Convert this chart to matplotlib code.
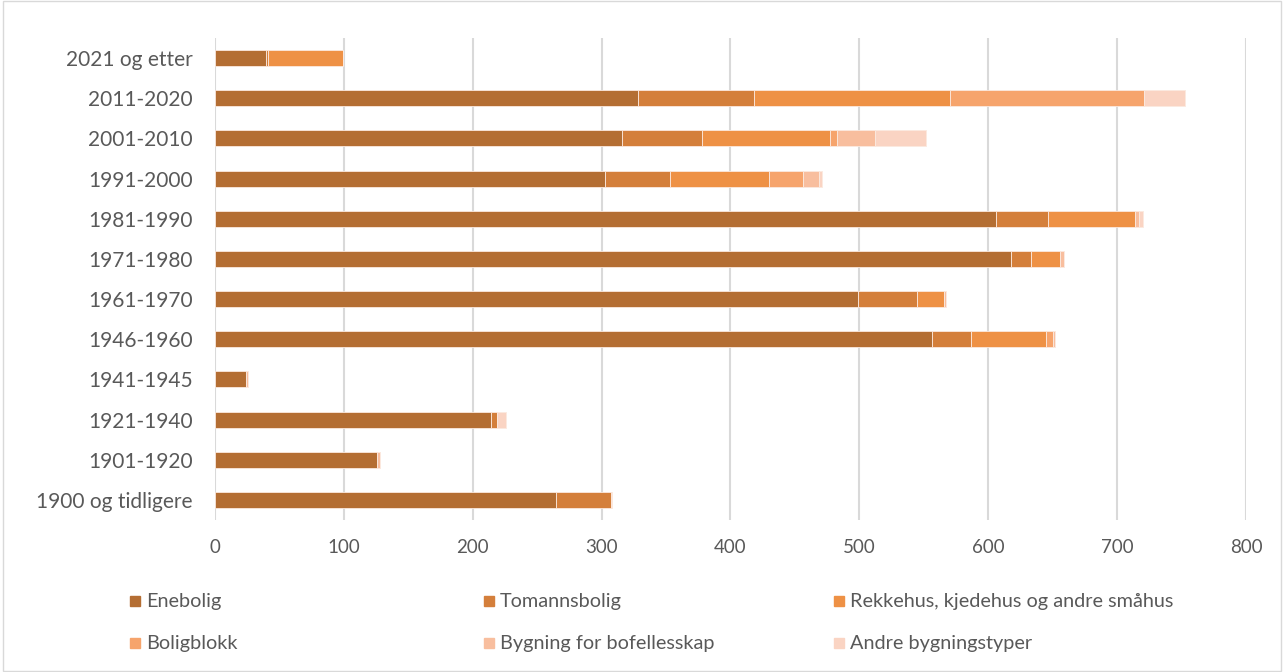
import matplotlib
matplotlib.use('Agg')
import matplotlib.pyplot as plt
import numpy as np
from matplotlib.patches import Rectangle

plt.rcParams['font.family'] = ['Lato', 'DejaVu Sans']

periods = ['2021 og etter', '2011-2020', '2001-2010', '1991-2000', '1981-1990', '1971-1980',
           '1961-1970', '1946-1960', '1941-1945', '1921-1940', '1901-1920', '1900 og tidligere']

seriesNames = ['Enebolig', 'Tomannsbolig', 'Rekkehus, kjedehus og andre småhus',
               'Boligblokk', 'Bygning for bofellesskap', 'Andre bygningstyper']

enebolig     = [40, 328, 316, 303, 606, 618, 499, 556, 24, 214, 126, 265]
tomannsbolig = [1,  90,  62,  50,  40,  15,  46,  31,  0,  5,   0,   42]
rekkehus     = [58, 152, 99,  77,  68,  23,  21,  58,  0,  0,   0,   0]
boligblokk   = [0,  151, 6,   26,  0,   0,   0,   5,   0,   0,   0,   0]
bofelles     = [0,  0,   29,  13,  3,   3,   1,   2,   2,   0,   2,   1]
andre        = [0,  32,  40,  2,   3,   0,   0,   0,   0,   7,   0,   0]

colors = ['#B46E33', '#D47F3B', '#EE9145', '#F6A46C', '#F8BE9E', '#FAD4C3']

data = [enebolig, tomannsbolig, rekkehus, boligblokk, bofelles, andre]

fig = plt.figure(figsize=(12.84, 6.72), dpi=100)
ax = fig.add_axes([0.1674, 0.2262, 0.9704 - 0.1674, 0.9435 - 0.2262])

y = np.arange(len(periods))
left = np.zeros(len(periods))
for vals, name, col in zip(data, seriesNames, colors):
    vals = np.array(vals, dtype=float)
    ax.barh(y, vals, left=left, height=0.4, color=col, edgecolor='#fbe9df', linewidth=0.6,
            label=name, zorder=3)
    left += vals

ax.set_xlim(0, 800)
ax.set_ylim(len(periods) - 0.5, -0.5)
ax.set_xticks(np.arange(0, 801, 100))
ax.set_yticks(y)
ax.set_yticklabels(periods)
ax.grid(True, axis='x', color='#D9D9D9', lw=1.5, zorder=0)
ax.tick_params(length=0, labelsize=13.5, colors='#595959')
ax.tick_params(axis='x', pad=14)
ax.tick_params(axis='y', labelsize=15, pad=16)
for s in ax.spines.values():
    s.set_visible(False)

# legend, laid out like the original (2 rows x 3 columns)
legX = [130, 484, 834]
legY = [601, 643]
for i, (name, col) in enumerate(zip(seriesNames, colors)):
    px = legX[i % 3]
    py = legY[i // 3]
    fig.patches.append(Rectangle((px / 1284, 1 - (py + 5) / 672), 10 / 1284, 10 / 672,
                                 transform=fig.transFigure, color=col, figure=fig))
    fig.text((px + 16) / 1284, 1 - py / 672, name, fontsize=14.3, color='#595959', va='center')

fig.patches.append(Rectangle((0.002, 0.002), 0.996, 0.996, transform=fig.transFigure,
                             fill=False, edgecolor='#D9D9D9', lw=1, figure=fig))

plt.savefig('out.png', dpi=100)
